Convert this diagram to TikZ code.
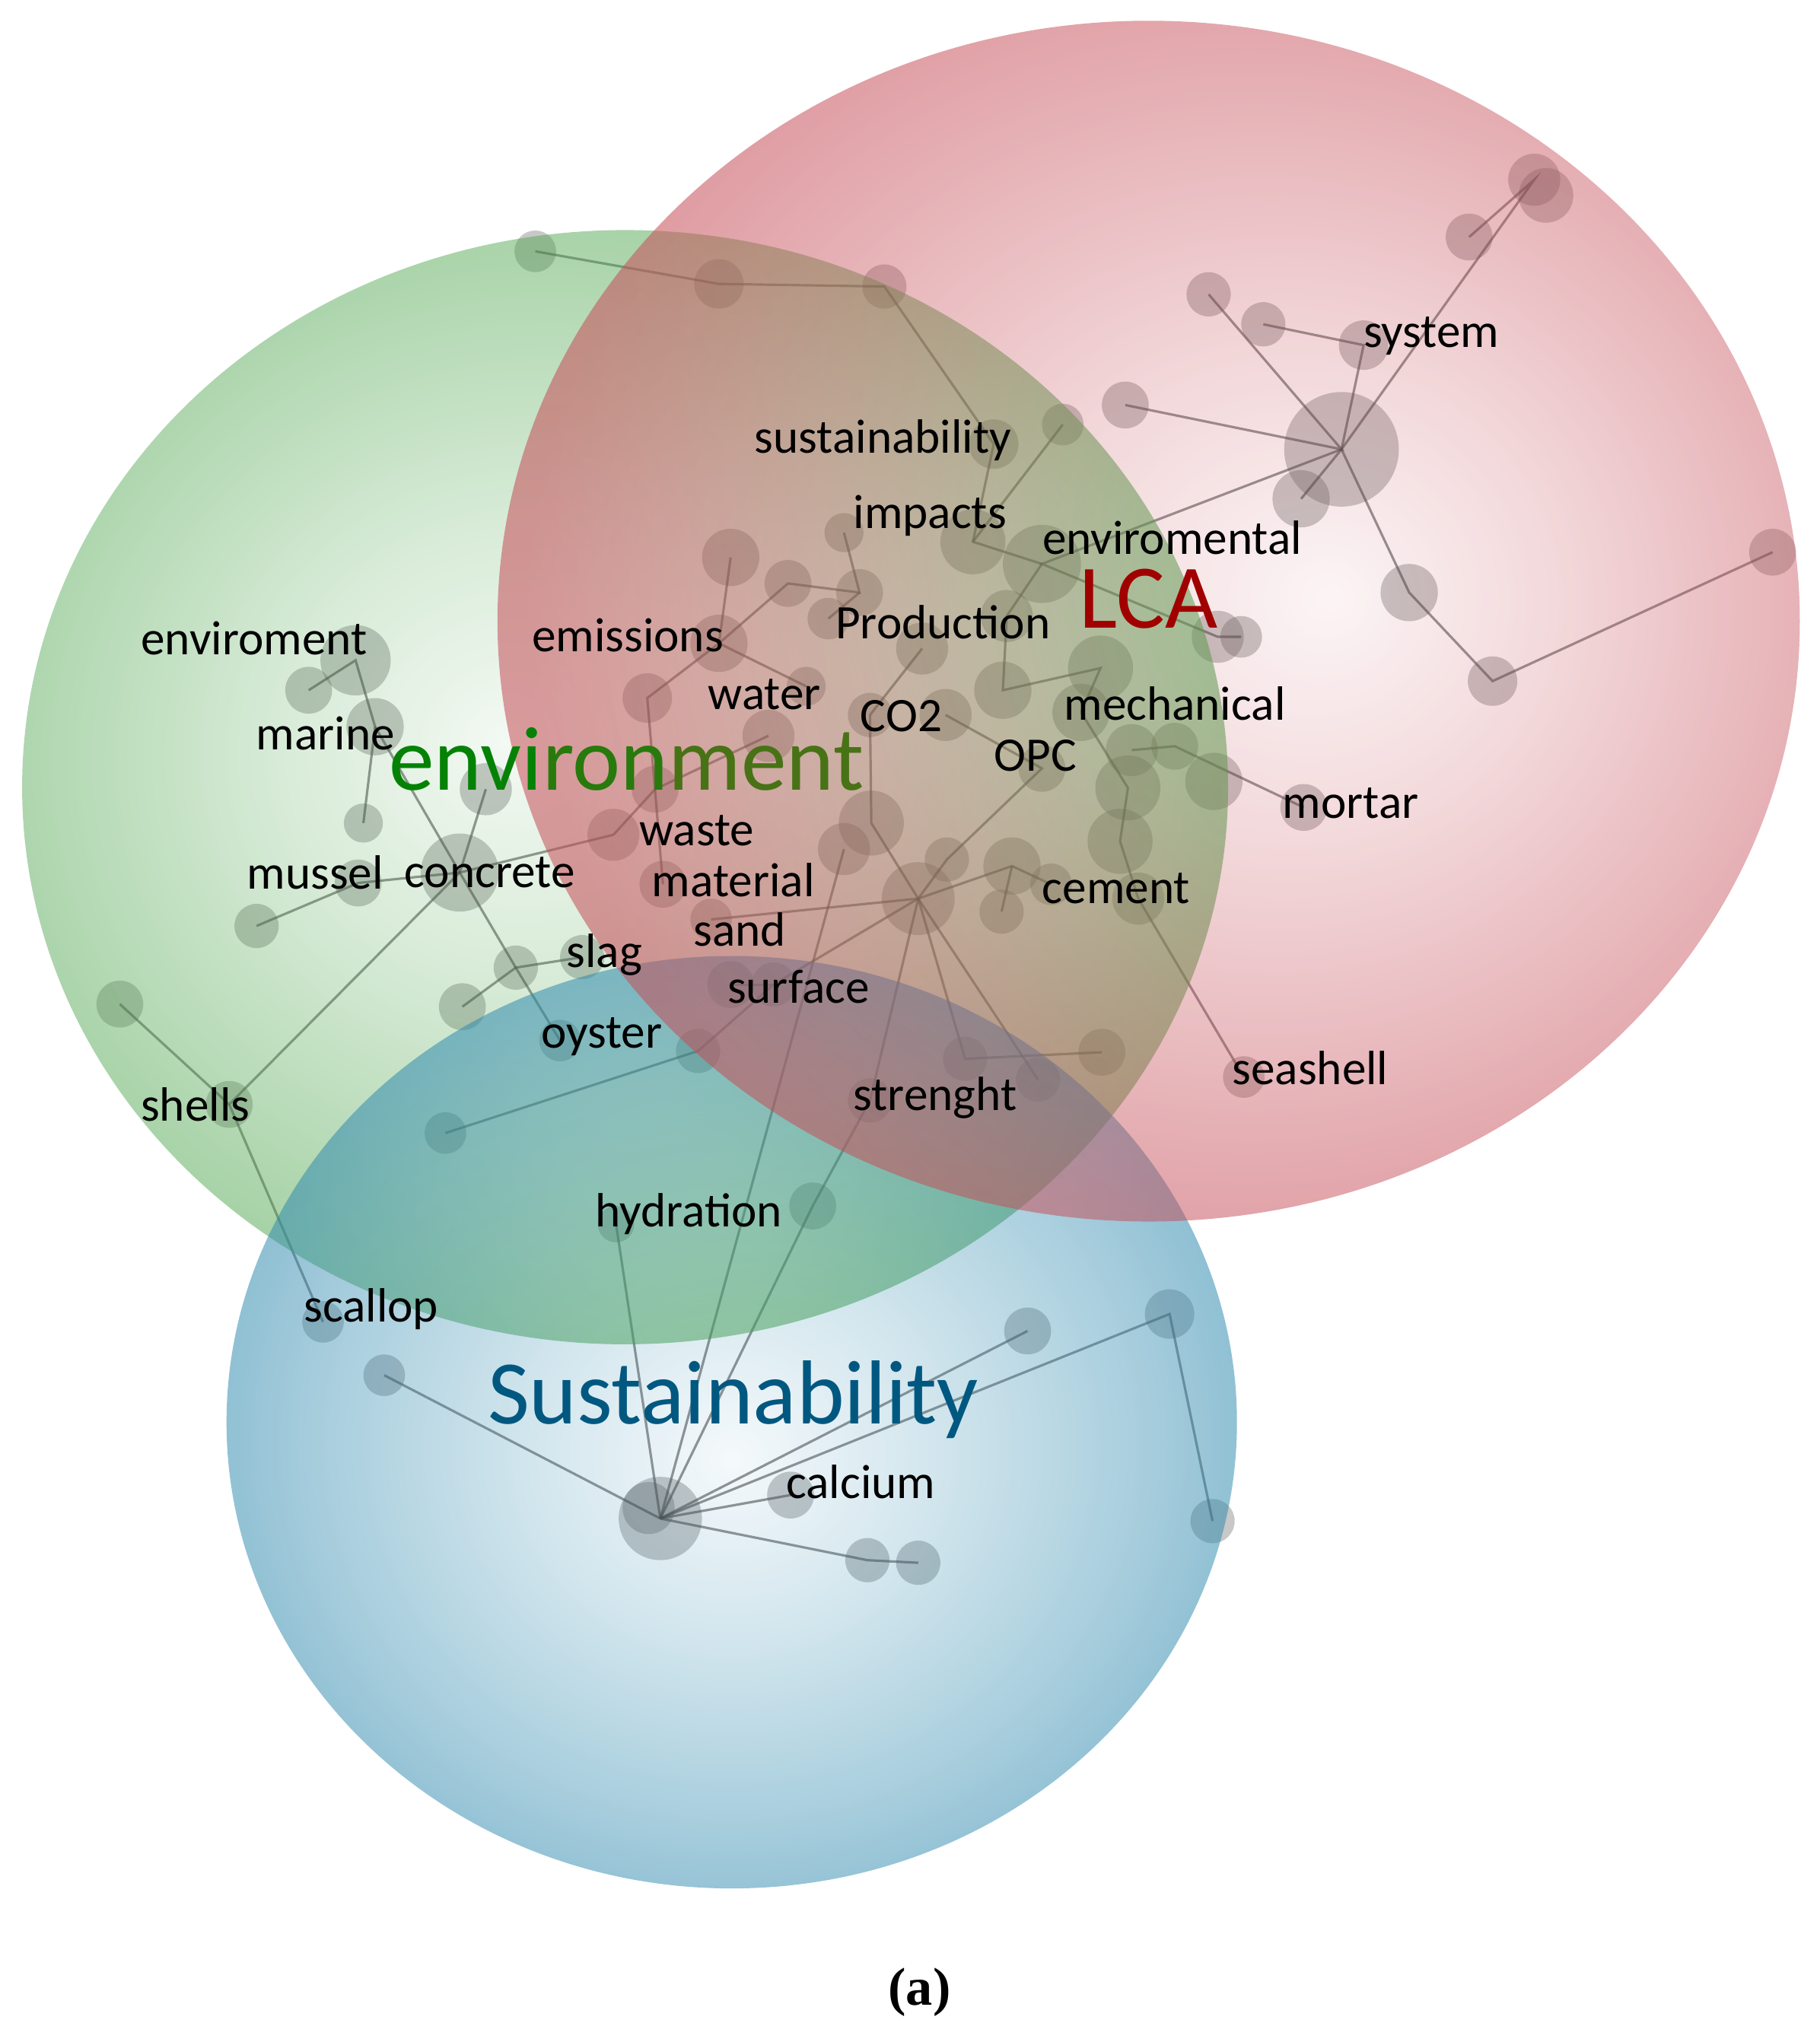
\documentclass[tikz,border=0pt]{standalone}
\usepackage{fontspec}
\usetikzlibrary{fadings}
\newfontfamily\lblfont{Carlito}
\newfontfamily\capfont{Liberation Serif}

\definecolor{lcafill}{RGB}{198,80,90}
\definecolor{envfill}{RGB}{80,166,80}
\definecolor{susfill}{RGB}{50,139,175}
\definecolor{lcared}{RGB}{160,0,0}
\definecolor{envgreen}{RGB}{5,130,5}
\definecolor{envmix}{RGB}{40,122,12}
\definecolor{envolive}{RGB}{72,114,22}
\definecolor{susblue}{RGB}{0,88,128}

% opacity masks: nearly clear in the middle, denser at the rim
\pgfdeclareradialshading{lcamask}{\pgfpoint{7bp}{1bp}}{color(0bp)=(white!6!black); color(10bp)=(white!22!black); color(20bp)=(white!42!black); color(27bp)=(white!56!black); color(50bp)=(white!56!black)}
\pgfdeclareradialshading{envmask}{\pgfpoint{-5bp}{2bp}}{color(0bp)=(white!7!black); color(10bp)=(white!22!black); color(20bp)=(white!42!black); color(27bp)=(white!56!black); color(50bp)=(white!56!black)}
\pgfdeclareradialshading{susmask}{\pgfpoint{0bp}{-2bp}}{color(0bp)=(white!5!black); color(10bp)=(white!22!black); color(20bp)=(white!42!black); color(26bp)=(white!56!black); color(50bp)=(white!56!black)}
\pgfdeclarefading{lcafade}{\pgfuseshading{lcamask}}
\pgfdeclarefading{envfade}{\pgfuseshading{envmask}}
\pgfdeclarefading{susfade}{\pgfuseshading{susmask}}

\tikzset{
  dot/.style={circle, fill=gray!80!black, fill opacity=0.36, inner sep=0pt, minimum size=#1*0.3424mm},
  link/.style={draw=gray!60!black, draw opacity=0.6, line width=0.9pt},
  term/.style={font=\lblfont\fontsize{18}{20}\selectfont, text=black, inner sep=0pt},
  topic/.style={font=\lblfont\fontsize{34}{38}\selectfont, inner sep=0pt}
}

\begin{document}
\begin{tikzpicture}[x=0.1712mm, y=-0.1712mm]
\useasboundingbox (0,0) rectangle (1397,1568);

% keyword dots
\node[dot=16] (t1) at (411,193) {};
\node[dot=19] (t2) at (552,218) {};
\node[dot=17] (t3) at (679,220) {};
\node[dot=44] (lcahub) at (1030,345) {};
\node[dot=20] (top1) at (1178,138) {};
\node[dot=21] (top2) at (1187,150) {};
\node[dot=18] (sysa) at (1128,182) {};
\node[dot=17] (sysb) at (928,226) {};
\node[dot=17] (sysc) at (970,249) {};
\node[dot=19] (system) at (1047,265) {};
\node[dot=18] (sysd) at (864,311) {};
\node[dot=22] (syse) at (999,383) {};
\node[dot=22] (ra) at (1082,455) {};
\node[dot=19] (rb) at (1146,523) {};
\node[dot=18] (rc) at (1361,424) {};
\node[dot=16] (susr) at (816,326) {};
\node[dot=19] (susl) at (763,341) {};
\node[dot=22] (ca) at (561,428) {};
\node[dot=18] (cb) at (605,448) {};
\node[dot=15] (impl) at (648,409) {};
\node[dot=18] (cc) at (660,455) {};
\node[dot=16] (cd) at (636,475) {};
\node[dot=25] (impr) at (747,416) {};
\node[dot=30] (enva) at (800,433) {};
\node[dot=20] (envb) at (773,473) {};
\node[dot=22] (emis) at (552,494) {};
\node[dot=19] (ce) at (497,536) {};
\node[dot=15] (cf) at (619,527) {};
\node[dot=20] (water) at (590,565) {};
\node[dot=17] (cg) at (668,549) {};
\node[dot=20] (ch) at (708,498) {};
\node[dot=20] (ci) at (726,549) {};
\node[dot=22] (mecha) at (770,530) {};
\node[dot=25] (mechb) at (845,513) {};
\node[dot=22] (mechc) at (830,547) {};
\node[dot=20] (lcaa) at (935,489) {};
\node[dot=16] (lcab) at (953,489) {};
\node[dot=18] (opc) at (800,590) {};
\node[dot=20] (ma) at (869,576) {};
\node[dot=18] (mb) at (902,573) {};
\node[dot=22] (mc) at (932,600) {};
\node[dot=25] (md) at (866,605) {};
\node[dot=25] (me) at (860,646) {};
\node[dot=18] (mortar) at (1001,620) {};
\node[dot=20] (cement) at (874,690) {};
\node[dot=20] (wl) at (471,641) {};
\node[dot=18] (wu) at (503,606) {};
\node[dot=18] (material) at (509,679) {};
\node[dot=16] (sand) at (546,706) {};
\node[dot=25] (hc) at (669,632) {};
\node[dot=20] (hd) at (648,652) {};
\node[dot=28] (hub2) at (705,690) {};
\node[dot=17] (he) at (727,660) {};
\node[dot=22] (hf) at (777,665) {};
\node[dot=16] (hg) at (807,679) {};
\node[dot=17] (hh) at (769,700) {};
\node[dot=18] (surfl) at (561,756) {};
\node[dot=17] (surfr) at (594,756) {};
\node[dot=17] (sa) at (536,807) {};
\node[dot=16] (sb) at (342,870) {};
\node[dot=17] (slag) at (447,735) {};
\node[dot=17] (sla) at (396,743) {};
\node[dot=18] (slb) at (355,773) {};
\node[dot=16] (oyster) at (430,799) {};
\node[dot=17] (sta) at (741,813) {};
\node[dot=17] (stb) at (797,829) {};
\node[dot=18] (stc) at (846,808) {};
\node[dot=17] (strenght) at (668,845) {};
\node[dot=18] (hyr) at (624,926) {};
\node[dot=14] (hydration) at (473,940) {};
\node[dot=16] (seashell) at (955,827) {};
\node[dot=27] (envi) at (273,507) {};
\node[dot=18] (envia) at (237,530) {};
\node[dot=22] (marine) at (288,558) {};
\node[dot=15] (mara) at (279,632) {};
\node[dot=20] (conca) at (373,606) {};
\node[dot=30] (concrete) at (353,670) {};
\node[dot=18] (mussel) at (275,678) {};
\node[dot=17] (musa) at (197,711) {};
\node[dot=18] (sha) at (92,771) {};
\node[dot=18] (shells) at (176,848) {};
\node[dot=16] (scallop) at (248,1015) {};
\node[dot=16] (scb) at (295,1056) {};
\node[dot=32] (hub3) at (507,1166) {};
\node[dot=20] (hub3b) at (498,1158) {};
\node[dot=18] (calcium) at (607,1148) {};
\node[dot=17] (ba) at (666,1198) {};
\node[dot=17] (bb) at (705,1200) {};
\node[dot=18] (bc) at (789,1022) {};
\node[dot=19] (bd) at (898,1009) {};
\node[dot=17] (be) at (931,1168) {};

% co-occurrence links
\draw[link] (t1.center) -- (t2.center) -- (t3.center) -- (susl.center) -- (impr.center) -- (enva.center);
\draw[link] (susr.center) -- (impr.center);
\draw[link] (sysa.center) -- (top1.center) -- (lcahub.center) -- (ra.center) -- (rb.center) -- (rc.center);
\draw[link] (sysb.center) -- (lcahub.center) -- (sysd.center);
\draw[link] (sysc.center) -- (system.center) -- (lcahub.center) -- (syse.center);
\draw[link] (lcahub.center) -- (enva.center) -- (lcaa.center) -- (lcab.center);
\draw[link] (enva.center) -- (envb.center) -- (mecha.center) -- (mechb.center) -- (mechc.center);
\draw[link] (ca.center) -- (emis.center) -- (cb.center) -- (cc.center) -- (impl.center);
\draw[link] (emis.center) -- (ce.center) -- (material.center);
\draw[link] (emis.center) -- (cf.center);
\draw[link] (cc.center) -- (cd.center);
\draw[link] (ch.center) -- (cg.center) -- (hc.center) -- (hub2.center);
\draw[link] (ci.center) -- (opc.center) -- (he.center) -- (hub2.center);
\draw[link] (mechc.center) -- (md.center) -- (me.center) -- (cement.center) -- (seashell.center);
\draw[link] (ma.center) -- (mb.center) -- (mortar.center);
\draw[link] (hub2.center) -- (hf.center) -- (hg.center);
\draw[link] (hf.center) -- (hh.center);
\draw[link] (hub2.center) -- (sand.center);
\draw[link] (hub2.center) -- (surfr.center) -- (sa.center) -- (sb.center);
\draw[link] (surfl.center) -- (surfr.center);
\draw[link] (hub2.center) -- (sta.center) -- (stc.center);
\draw[link] (hub2.center) -- (stb.center);
\draw[link] (hub2.center) -- (strenght.center) -- (hyr.center) -- (hub3.center);
\draw[link] (hd.center) -- (hub3.center);
\draw[link] (wl.center) -- (concrete.center) -- (mussel.center) -- (musa.center);
\draw[link] (wl.center) -- (wu.center) -- (water.center);
\draw[link] (conca.center) -- (concrete.center) -- (sla.center) -- (oyster.center);
\draw[link] (slb.center) -- (sla.center) -- (slag.center);
\draw[link] (sha.center) -- (shells.center) -- (concrete.center);
\draw[link] (shells.center) -- (scallop.center);
\draw[link] (envia.center) -- (envi.center) -- (marine.center) -- (mara.center);
\draw[link] (marine.center) -- (concrete.center);
\draw[link] (hub3.center) -- (scb.center);
\draw[link] (hub3.center) -- (hydration.center);
\draw[link] (hub3.center) -- (calcium.center);
\draw[link] (hub3.center) -- (ba.center) -- (bb.center);
\draw[link] (hub3.center) -- (bc.center);
\draw[link] (hub3.center) -- (bd.center) -- (be.center);

% three clusters laid over the network
\fill[envfill, path fading=envfade] (480,604) ellipse [x radius=463, y radius=428];
\fill[susfill, path fading=susfade] (562,1092) ellipse [x radius=388, y radius=358];
\fill[lcafill, path fading=lcafade] (882,477) ellipse [x radius=500, y radius=461];

% cluster names
\node[topic, text=lcared] (tlca) at (882,460) {LCA};
\node[topic] (tenvironment) at (481,583) {\textcolor{envgreen}{envi}\textcolor{envmix}{ron}\textcolor{envolive}{ment}};
\node[topic, text=susblue] (tsustainability) at (563,1075) {Sustainability};

% keywords
\node[term] (tsust) at (678,338) {sustainability};
\node[term] (timpacts) at (714,396) {impacts};
\node[term] (tenviromental) at (900,413) {enviromental};
\node[term] (tproduction) at (724,478) {Production};
\node[term] (temissions) at (482,488) {emissions};
\node[term] (tenviroment) at (195,490) {enviroment};
\node[term] (twater) at (587,533) {water};
\node[term] (tco) at (692,550) {CO2};
\node[term] (tmechanical) at (902,540) {mechanical};
\node[term] (tmarine) at (250,563) {marine};
\node[term] (topc) at (795,580) {OPC};
\node[term] (tmortar) at (1037,617) {mortar};
\node[term] (twaste) at (535,638) {waste};
\node[term] (tmussel) at (242,670) {mussel};
\node[term] (tconcrete) at (376,670) {concrete};
\node[term] (tmaterial) at (563,676) {material};
\node[term] (tcement) at (857,682) {cement};
\node[term] (tsand) at (568,714) {sand};
\node[term] (tslag) at (464,733) {slag};
\node[term] (tsurface) at (613,758) {surface};
\node[term] (toyster) at (462,796) {oyster};
\node[term] (tseashell) at (1006,820) {seashell};
\node[term] (tshells) at (150,848) {shells};
\node[term] (tstrenght) at (718,843) {strenght};
\node[term] (thydration) at (529,932) {hydration};
\node[term] (tscallop) at (285,1005) {scallop};
\node[term] (tcalcium) at (661,1138) {calcium};
\node[term] (tsystem) at (1099,258) {system};

\node[font=\capfont\bfseries\fontsize{20}{22}\selectfont, inner sep=0pt] (cap) at (706,1530) {(a)};
\end{tikzpicture}
\end{document}
